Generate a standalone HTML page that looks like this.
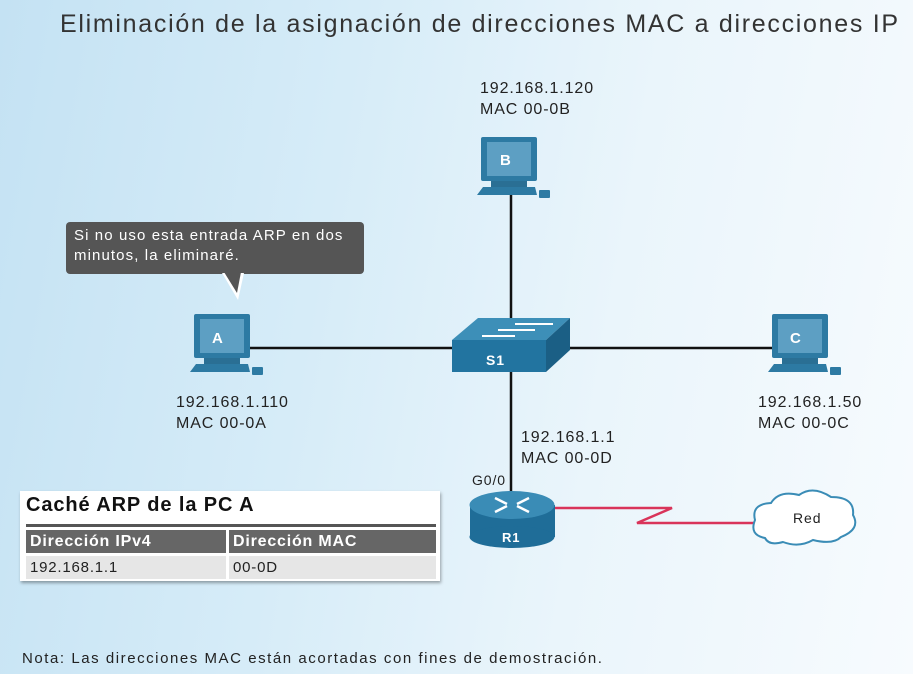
<!DOCTYPE html>
<html><head><meta charset="utf-8"><style>
body{margin:0;width:913px;height:674px;overflow:hidden;font-family:"Liberation Sans",sans-serif;
background:linear-gradient(100deg,#c4e2f3 0%,#d6ecf8 35%,#eaf5fb 65%,#f7fbfe 100%);position:relative}
.t{position:absolute;color:#222;font-size:16px;line-height:21px;letter-spacing:0.9px;white-space:nowrap}
</style></head><body>
<svg width="913" height="674" style="position:absolute;left:0;top:0">
<defs>
<g id="pc">
 <rect x="0" y="0" width="56" height="44" rx="2" fill="#2d7aa3"/>
 <rect x="6" y="5" width="44" height="34" fill="#5d9fc3"/>
 <polygon points="10,44 46,44 46,50 10,50" fill="#2a6f94"/>
 <polygon points="2,50 54,50 56,58 -4,58" fill="#2d7aa3"/>
 <rect x="58" y="53" width="11" height="8" rx="1" fill="#2d7aa3"/>
</g>
</defs>
<line x1="250" y1="348" x2="780" y2="348" stroke="#111" stroke-width="2.5"/>
<line x1="511" y1="195" x2="511" y2="330" stroke="#111" stroke-width="2.5"/>
<line x1="511" y1="365" x2="511" y2="500" stroke="#111" stroke-width="2.5"/>
<polyline points="555,508 672,508 637,523 755,523" fill="none" stroke="#d9345a" stroke-width="2.5"/>
<use href="#pc" x="194" y="314"/>
<use href="#pc" x="481" y="137"/>
<use href="#pc" x="772" y="314"/>
<polygon points="452,340 478,318 570,318 546,340" fill="#3d8fb8"/>
<polygon points="452,340 546,340 546,372 452,372" fill="#2274a0"/>
<polygon points="546,340 570,318 570,350 546,372" fill="#1b5f85"/>
<line x1="482" y1="336" x2="515" y2="336" stroke="#fff" stroke-width="2"/>
<line x1="498" y1="330" x2="535" y2="330" stroke="#fff" stroke-width="2"/>
<line x1="515" y1="324" x2="553" y2="324" stroke="#fff" stroke-width="2"/>
<rect x="470" y="505" width="85" height="32" fill="#1f6d98"/>
<ellipse cx="512" cy="537" rx="42.5" ry="11" fill="#1f6d98"/>
<ellipse cx="512" cy="505" rx="42.5" ry="14" fill="#3a8cb6"/>
<path d="M495 498 l12 6 M529 498 l-12 6 M495 512 l12 -6 M529 512 l-12 -6" stroke="#fff" stroke-width="2.5"/>
<path d="M765 538 q-16 -3 -10 -18 q-4 -16 16 -17 q8 -13 28 -8 q14 -10 32 2 q24 0 22 18 q8 14 -12 22 q-8 8 -28 3 q-14 8 -30 2 q-14 4 -18 -4z" fill="#fff" stroke="#3a8cb6" stroke-width="2"/>
<rect x="66" y="222" width="298" height="52" rx="4" fill="#555"/>
<polygon points="222,273 244,273 238,300" fill="#fff"/>
<polygon points="224,272 241,272 237,293" fill="#555"/>
</svg>
<div class="t" style="left:60px;top:8px;font-size:25px;line-height:32px;color:#333;letter-spacing:1.7px">Eliminación de la asignación de direcciones MAC a direcciones IP</div>
<div class="t" style="left:480px;top:78px">192.168.1.120<br>MAC 00-0B</div>
<div class="t" style="left:176px;top:392px">192.168.1.110<br>MAC 00-0A</div>
<div class="t" style="left:758px;top:392px">192.168.1.50<br>MAC 00-0C</div>
<div class="t" style="left:521px;top:427px">192.168.1.1<br>MAC 00-0D</div>
<div class="t" style="left:472px;top:470px;font-size:14px">G0/0</div>
<div class="t" style="left:212px;top:328px;color:#fff;font-weight:bold;font-size:15px">A</div>
<div class="t" style="left:500px;top:150px;color:#fff;font-weight:bold;font-size:15px">B</div>
<div class="t" style="left:790px;top:328px;color:#fff;font-weight:bold;font-size:15px">C</div>
<div class="t" style="left:486px;top:350px;color:#fff;font-weight:bold;font-size:14px">S1</div>
<div class="t" style="left:502px;top:527px;color:#fff;font-weight:bold;font-size:13px">R1</div>
<div class="t" style="left:793px;top:508px;font-size:14px">Red</div>
<div class="t" style="left:74px;top:226px;color:#fff;font-size:15px;line-height:20px;letter-spacing:1.1px">Si no uso esta entrada ARP en dos<br>minutos, la eliminaré.</div>
<div style="position:absolute;left:20px;top:491px;width:420px;height:90px;background:#fff;box-shadow:1px 2px 3px rgba(0,0,0,.35)">
 <div style="position:absolute;left:6px;top:3px;font-size:20px;color:#111;font-weight:bold;letter-spacing:0.9px;white-space:nowrap">Caché ARP de la PC A</div>
 <div style="position:absolute;left:6px;top:33px;width:410px;height:3px;background:#555"></div>
 <div style="position:absolute;left:6px;top:39px;width:200px;height:23px;background:#666;color:#fff;font-weight:bold;font-size:16px;line-height:23px;padding-left:4px;box-sizing:border-box;letter-spacing:0.8px">Dirección IPv4</div>
 <div style="position:absolute;left:209px;top:39px;width:207px;height:23px;background:#666;color:#fff;font-weight:bold;font-size:16px;line-height:23px;padding-left:4px;box-sizing:border-box;letter-spacing:0.8px">Dirección MAC</div>
 <div style="position:absolute;left:6px;top:65px;width:200px;height:23px;background:#e6e6e6;color:#222;font-size:15px;line-height:23px;padding-left:4px;box-sizing:border-box;letter-spacing:0.8px">192.168.1.1</div>
 <div style="position:absolute;left:209px;top:65px;width:207px;height:23px;background:#e6e6e6;color:#222;font-size:15px;line-height:23px;padding-left:4px;box-sizing:border-box;letter-spacing:0.8px">00-0D</div>
</div>
<div class="t" style="left:22px;top:650px;font-size:15px;line-height:18px;letter-spacing:1.55px">Nota: Las direcciones MAC están acortadas con fines de demostración.</div>
</body></html>
